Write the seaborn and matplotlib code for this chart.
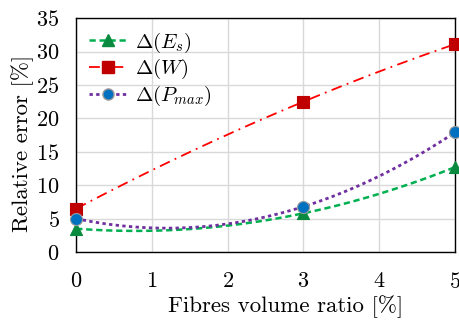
import matplotlib
matplotlib.use("Agg")
import matplotlib.pyplot as plt
import seaborn as sns
from matplotlib.lines import Line2D

# données
ratio = [0, 3, 5]
err_es = [3.5, 5.8, 12.7]
err_w = [6.5, 22.5, 31.1]
err_pmax = [5.0, 6.8, 17.9]
labels = [r"$\Delta(E_s)$", r"$\Delta(W)$", r"$\Delta(P_{max})$"]

sns.set_style("whitegrid")
plt.rcParams["font.family"] = ["cmr10"]
plt.rcParams["mathtext.fontset"] = "cm"
plt.rcParams["axes.formatter.use_mathtext"] = True
plt.rcParams["text.color"] = "black"
plt.rcParams["axes.labelcolor"] = "black"
plt.rcParams["xtick.color"] = "black"
plt.rcParams["ytick.color"] = "black"

fig, ax = plt.subplots(figsize=(4.59, 3.24), dpi=100)
fig.subplots_adjust(left=0.166, right=0.991, top=0.944, bottom=0.222)

series = [
    (err_es, "#00b050", "#0a8a3f", "^", (0, (2.5, 1.5)), 1.8, "#0a8a3f"),
    (err_w, "#ff0000", "#c00000", "s", (0, (6, 3, 1, 3)), 1.3, "#c00000"),
    (err_pmax, "#7030a0", "#0070c0", "o", (0, (1.2, 1.2)), 2.0, "#9a9a9a"),
]

handles = []
for (vals, lc, mc, mk, ls, lw, ec), lab in zip(series, labels):
    # courbe de tendance polynomiale (ordre 2)
    sns.regplot(x=ratio, y=vals, order=2, ci=None, scatter=False, truncate=True,
                line_kws=dict(color=lc, linestyle=ls, linewidth=lw), ax=ax)
    sns.scatterplot(x=ratio, y=vals, marker=mk, color=mc, s=75, edgecolor=ec,
                    linewidth=0.8, zorder=5, clip_on=False, ax=ax)
    handles.append(Line2D([], [], color=lc, linestyle=ls, linewidth=lw, marker=mk,
                          markerfacecolor=mc, markeredgecolor=ec, markersize=8))

ax.set_xlim(0, 5)
ax.set_ylim(0, 35)
ax.set_xticks(range(0, 6))
ax.set_yticks(range(0, 36, 5))
ax.grid(True, color="#d9d9d9", linewidth=1.0)
for sp in ax.spines.values():
    sp.set_color("black")
    sp.set_linewidth(1.0)
ax.tick_params(axis="both", length=0, labelsize=16)
ax.tick_params(axis="x", pad=14)
ax.tick_params(axis="y", pad=12)
ax.set_xlabel("Fibres volume ratio [%]", fontsize=16.5)
ax.set_ylabel("Relative error [%]", fontsize=16.5)
ax.xaxis.set_label_coords(0.554, -0.185)
ax.yaxis.set_label_coords(-0.112, 0.466)

ax.legend(handles, labels, loc="upper left", frameon=False, fontsize=15,
          handlelength=1.9, handletextpad=0.3, labelspacing=0.12,
          borderaxespad=0.3, borderpad=0.3, bbox_to_anchor=(0.0, 1.0))

fig.savefig("out.png", dpi=100)
